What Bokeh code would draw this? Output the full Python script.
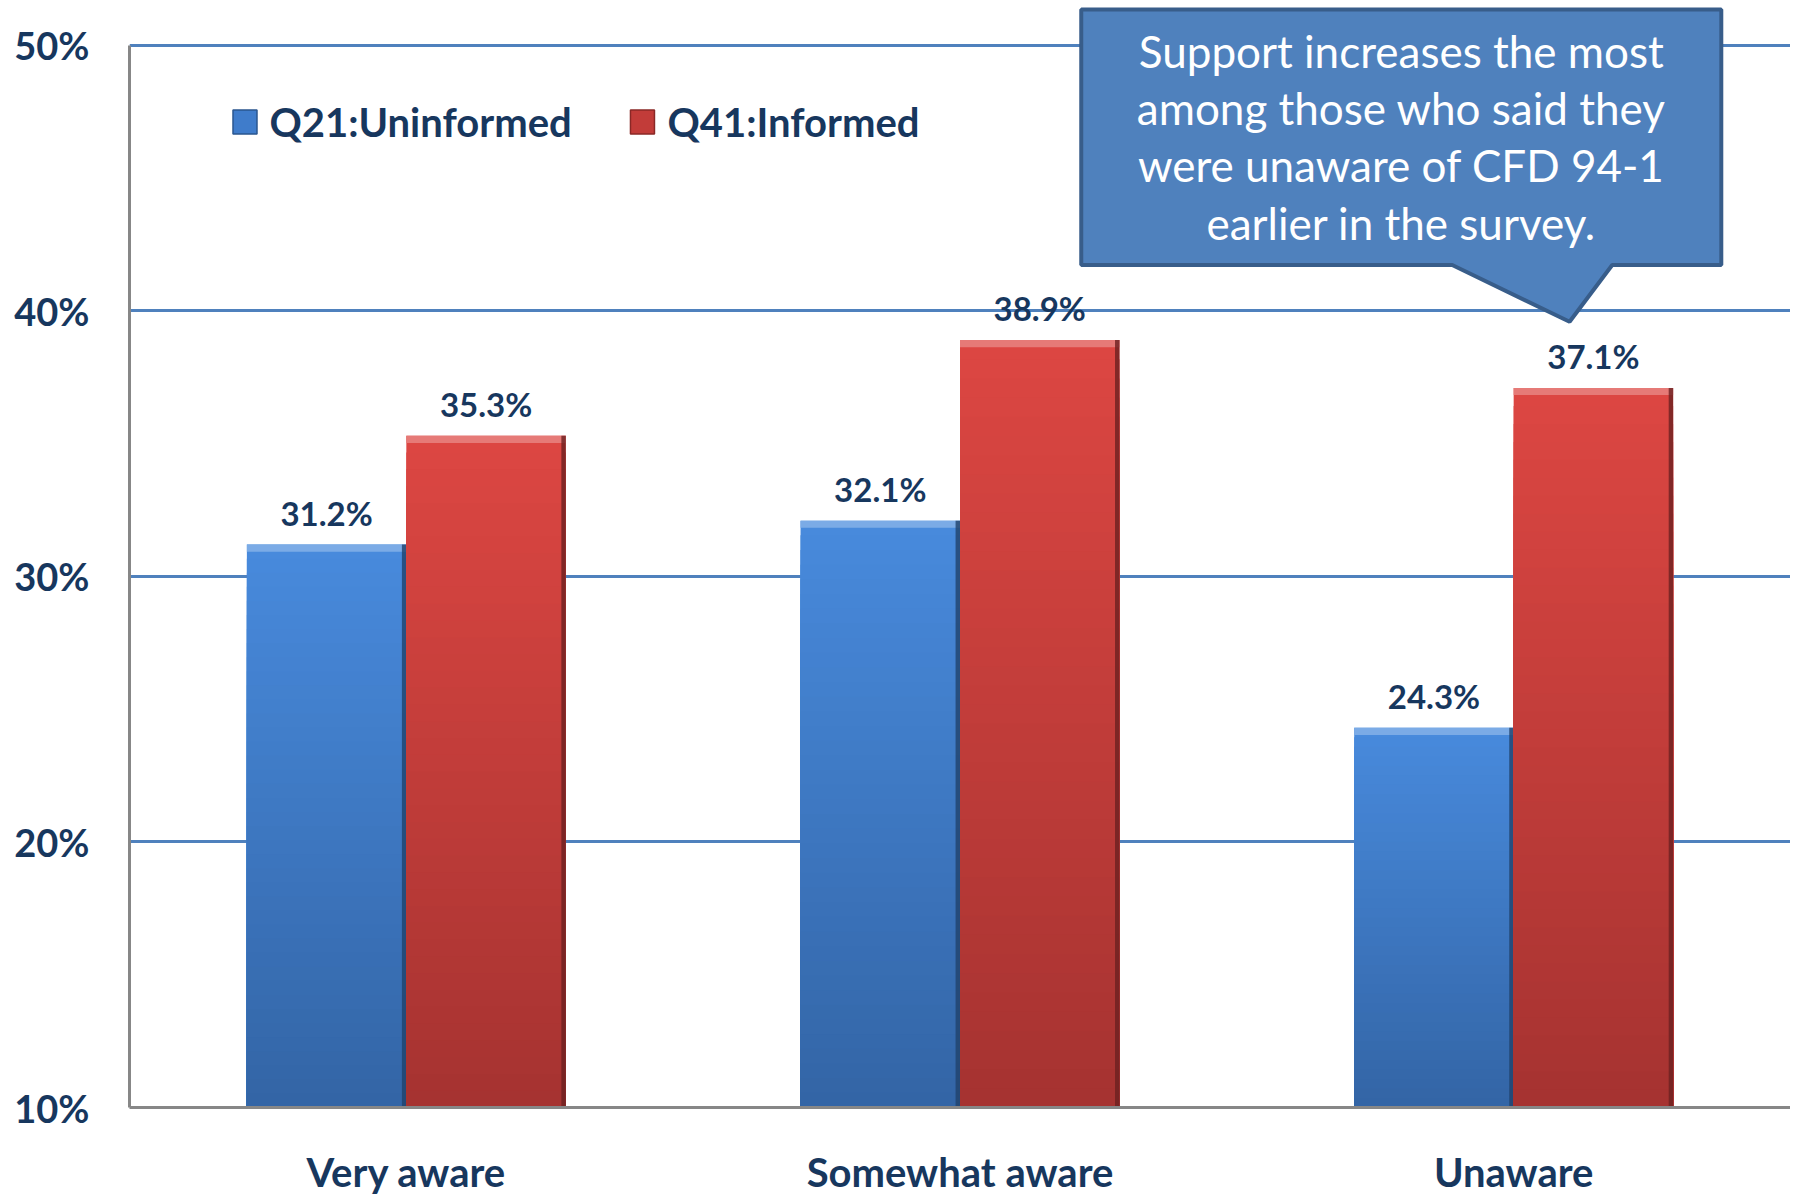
from bokeh.plotting import figure
from bokeh.models import (ColumnDataSource, FactorRange, Range1d, FixedTicker,
                          PrintfTickFormatter)
from bokeh.transform import dodge
from bokeh.core.properties import value
from bokeh.embed import file_html
from bokeh.resources import INLINE

# ---------------- data ----------------
categories = ["Very aware", "Somewhat aware", "Unaware"]
series_names = ["Q21:Uninformed", "Q41:Informed"]
uninformed = [31.2, 32.1, 24.3]
informed = [35.3, 38.9, 37.1]
y_ticks = [10, 20, 30, 40, 50]
callout_lines = ["Support increases the most",
                 "among those who said they",
                 "were unaware of CFD 94-1",
                 "earlier in the survey."]

# ---------------- style ----------------
TEXT = "#17375E"
FONT = "Lato"
BASE = 10
Y_END = 51.69
BAR_W = 0.288
OFF = BAR_W / 2
N_SLICES = 40
blue_top, blue_bot = (0x48, 0x8A, 0xDC), (0x33, 0x65, 0xA6)
red_top, red_bot = (0xDC, 0x46, 0x42), (0xA6, 0x33, 0x31)


def hexc(c):
    return "#%02x%02x%02x" % tuple(int(round(v)) for v in c)


def mix(a, b, t):
    return tuple(a[i] + (b[i] - a[i]) * t for i in range(3))


def gradient_source(vals, top_c, bot_c):
    cat, top, col = [], [], []
    for k in range(N_SLICES):
        frac = (N_SLICES - k) / N_SLICES
        t = k / (N_SLICES - 1)
        for c, v in zip(categories, vals):
            cat.append(c)
            top.append(BASE + (v - BASE) * frac)
            col.append(hexc(mix(top_c, bot_c, t)))
    return ColumnDataSource(dict(cat=cat, top=top, color=col))


p = figure(x_range=FactorRange(factors=categories, range_padding=0),
           y_range=Range1d(BASE, Y_END),
           width=1790, height=1198, output_backend="svg", toolbar_location=None,
           min_border_left=129, min_border_right=0, min_border_top=0,
           min_border_bottom=89)
p.outline_line_color = None
p.background_fill_color = "white"
p.border_fill_color = "white"

# grid
p.xgrid.grid_line_color = None
p.ygrid.ticker = FixedTicker(ticks=[t for t in y_ticks if t > BASE])
p.ygrid.grid_line_color = "#4F81BD"
p.ygrid.grid_line_width = 3

# axes
p.yaxis.ticker = FixedTicker(ticks=y_ticks)
p.yaxis.formatter = PrintfTickFormatter(format="%d%%")
p.yaxis.bounds = (BASE, 50)
for ax in (p.xaxis[0], p.yaxis[0]):
    ax.axis_line_color = "#878787"
    ax.axis_line_width = 3
    ax.major_tick_line_color = None
    ax.minor_tick_line_color = None
    ax.major_tick_out = 0
    ax.major_tick_in = 0
    ax.major_label_text_font = FONT
    ax.major_label_text_font_style = "bold"
    ax.major_label_text_color = TEXT
p.yaxis.major_label_text_font_size = "38px"
p.yaxis.major_label_standoff = 40
p.xaxis.major_label_text_font_size = "40px"
p.xaxis.major_label_standoff = 40

# bars with vertical gradient
for vals, off, tc, bc in ((uninformed, -OFF, blue_top, blue_bot),
                          (informed, OFF, red_top, red_bot)):
    src = gradient_source(vals, tc, bc)
    p.vbar(x=dodge("cat", off, range=p.x_range), top="top", bottom=BASE,
           width=BAR_W, source=src, fill_color="color", line_color=None)
    # bevel highlight at the top and shaded right edge
    edge = ColumnDataSource(dict(cat=categories, top=vals,
                                 hb=[v - 0.27 for v in vals]))
    p.vbar(x=dodge("cat", off, range=p.x_range), top="top", bottom="hb",
           width=BAR_W, source=edge,
           fill_color=hexc(mix(tc, (255, 255, 255), 0.28)), line_color=None)
    p.vbar(x=dodge("cat", off + BAR_W / 2 - 0.004, range=p.x_range), top="top",
           bottom=BASE, width=0.008, source=edge,
           fill_color=hexc(mix(bc, (0, 0, 0), 0.35)), line_color=None,
           fill_alpha=0.8)
    lab = ColumnDataSource(dict(cat=categories, y=vals,
                                t=["%.1f%%" % v for v in vals]))
    p.text(x=dodge("cat", off, range=p.x_range), y="y", text="t", source=lab,
           text_font=value(FONT), text_font_style="bold",
           text_font_size="33px", text_color=TEXT, text_align="center",
           text_baseline="alphabetic", y_offset=-32)

# legend (drawn manually in the plot area)
leg = ColumnDataSource(dict(x=[0.2086, 0.9265], y=[47.11, 47.11],
                            tx=[0.2528, 0.9717], name=series_names,
                            fill=["#3F7CCB", "#C23C39"],
                            line=["#2A568F", "#8A2826"]))
p.rect(x="x", y="y", width=24, height=24, width_units="screen",
       height_units="screen", source=leg, fill_color="fill", line_color="line",
       line_width=1.5)
p.text(x="tx", y="y", text="name", source=leg, text_font=value(FONT),
       text_font_style="bold", text_font_size="40px", text_color=TEXT,
       text_baseline="middle", text_align="left")

# callout
bx0, bx1, by0, by1 = 1.719, 2.875, 41.73, 51.35
px0, ptip, px1, pty = 2.389, 2.601, 2.678, 39.59
p.patch(x=[bx0, bx1, bx1, px1, ptip, px0, bx0],
        y=[by1, by1, by0, by0, pty, by0, by0],
        fill_color="#4F81BD", line_color="#385D8A", line_width=4)
cy = [49.78, 47.64, 45.49, 43.31]
co = ColumnDataSource(dict(x=[2.297] * 4, y=cy, t=callout_lines))
p.text(x="x", y="y", text="t", source=co, text_font=value(FONT),
       text_font_size="44px", text_color="white", text_align="center",
       text_baseline="middle")

open("out.html", "w").write(file_html(p, INLINE))
